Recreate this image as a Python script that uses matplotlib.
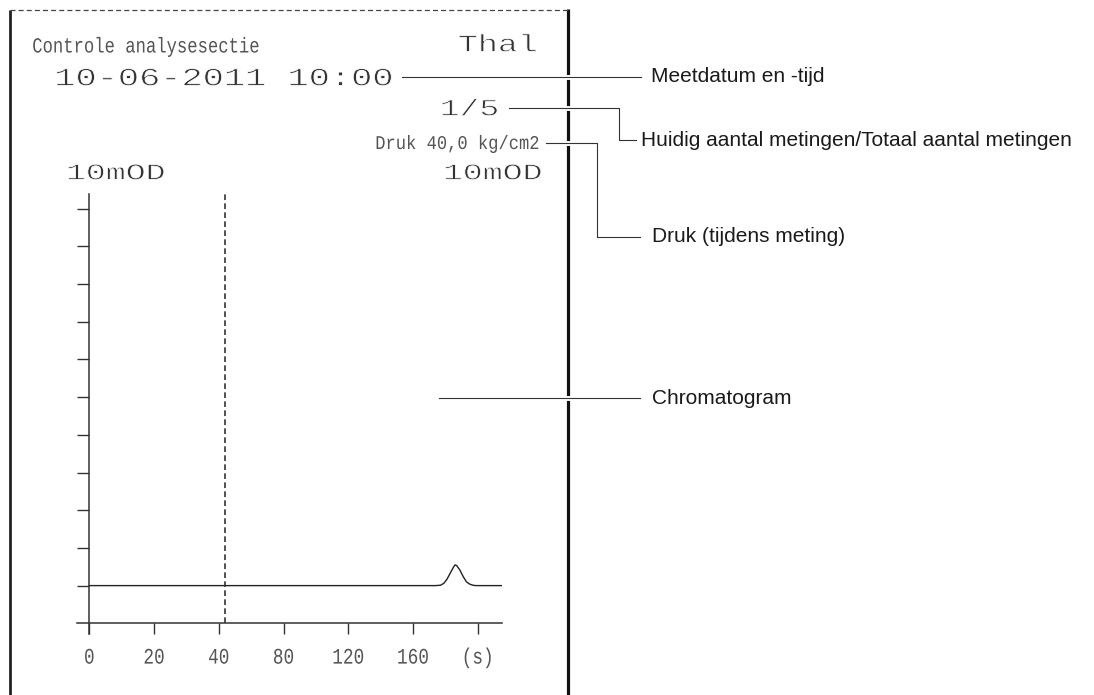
import matplotlib
matplotlib.use('Agg')
import matplotlib.pyplot as plt
import matplotlib.patheffects as pe
from matplotlib.transforms import Affine2D
import numpy as np

# printout header texts
section_title = 'Controle analysesectie'
mode_name = 'Thal'
measured_at = '10-06-2011 10:00'
run_count = '1/5'
pressure = 'Druk 40,0 kg/cm2'
range_left = '10mOD'
range_right = '10mOD'

# chromatogram trace: time (s) vs signal (divisions above baseline)
time_s = [0, 150, 174, 177, 179, 181, 183, 185, 186, 187, 189, 191, 193, 195, 197, 199, 214.8]
signal = [0, 0.0, 0.0, 0.01, 0.06, 0.17, 0.33, 0.49, 0.55, 0.53, 0.41, 0.24, 0.10, 0.04, 0.01, 0.0, 0.0]
marker_time = 44
tick_times = [0, 20, 40, 80, 120, 160, 200]
tick_labels = ['0', '20', '40', '80', '120', '160', '(s)']
div_levels = list(range(0, 11))

callouts = ['Meetdatum en -tijd',
            'Huidig aantal metingen/Totaal aantal metingen',
            'Druk (tijdens meting)',
            'Chromatogram']


class Stretch(pe.AbstractPathEffect):
    # widen / squeeze printer font sideways around left, middle or right edge
    def __init__(self, sx, anchor=0.0, thin=0.0):
        super().__init__()
        self.sx = sx
        self.anchor = anchor
        self.thin = thin

    def draw_path(self, renderer, gc, tpath, affine, rgbFace=None):
        ext = tpath.get_extents()
        x0 = ext.x0 + self.anchor * ext.width
        tr = Affine2D().translate(-x0, 0).scale(self.sx, 1).translate(x0, 0) + affine
        renderer.draw_path(gc, tpath, tr, rgbFace)
        if self.thin:
            # shave the strokes a bit, printer font is thin
            gc0 = renderer.new_gc()
            gc0.copy_properties(gc)
            gc0.set_foreground('white')
            gc0.set_linewidth(self.thin)
            renderer.draw_path(gc0, tpath, tr, None)
            gc0.restore()


def fwd(t):
    t = np.asarray(t, dtype=float)
    return np.where(t <= 40, t, 40 + (t - 40) / 2)


def inv(u):
    u = np.asarray(u, dtype=float)
    return np.where(u <= 40, u, 40 + (u - 40) * 2)


fig = plt.figure(figsize=(10.94, 6.95), dpi=100)

# page layer in pixel coords
pg = fig.add_axes([0, 0, 1, 1])
pg.set_xlim(0, 1094)
pg.set_ylim(695, 0)
pg.axis('off')

pg.plot([10, 10], [10, 695], color='#222', lw=2.0, solid_capstyle='butt')
pg.plot([568, 568], [9, 695], color='#111', lw=2.3, solid_capstyle='butt')
pg.plot([10, 568], [10, 10], color='#444', lw=0.9, dashes=(4, 2.5))

anchors = {'left': 0.0, 'center': 0.5, 'right': 1.0}


def printed(x, y, s, size, sx, ha='left', color='#333', thin=0.0):
    t = pg.text(x, y, s, fontsize=size, family='Liberation Mono', ha=ha, va='baseline', color=color)
    t.set_path_effects([Stretch(sx, anchors[ha], thin)])
    return t


printed(32, 52.5, section_title, 15.5, 0.8, 'left', '#555')
printed(537, 51.5, mode_name, 17.5, 1.37, 'right', '#333', 0.6)
printed(55, 85.5, measured_at, 18.3, 1.39, 'left', '#333', 0.6)
printed(498.5, 115.5, run_count, 17, 1.4, 'right', '#333', 0.6)
printed(541, 149, pressure, 14, 0.88, 'right', '#555')
printed(66.6, 179.5, range_left, 16.5, 1.45, 'left', '#333', 0.6)
printed(542, 179.5, range_right, 16.5, 1.45, 'right', '#333', 0.6)

halo = [pe.withStroke(linewidth=3.5, foreground='white')]


def callout(xs, ys, label, tx, ty):
    pg.plot(xs, ys, color='#333', lw=0.8, path_effects=halo, zorder=5)
    pg.text(tx, ty, label, family='Liberation Sans', fontsize=15, ha='left', va='center', color='#1a1a1a')


callout([402, 641], [76.5, 76.5], callouts[0], 651, 76.5)
callout([509, 618.5, 618.5, 636], [108, 108, 140, 140], callouts[1], 641, 140)
callout([546, 596.5, 596.5, 640], [143, 143, 237, 237], callouts[2], 652, 237)
callout([439, 640], [398, 398], callouts[3], 652, 398)

# chromatogram
ax = fig.add_axes([76.7 / 1094, 61 / 695, 425 / 1094, 440 / 695])
ax.patch.set_visible(False)
ax.set_xscale('function', functions=(fwd, inv))
ax.set_xlim(-3.9, 214.8)
ax.set_ylim(-1.284, 10.39)

ax.plot(time_s, signal, color='#222', lw=1.0)
ax.vlines(marker_time, -1, 10.39, colors='#333', lw=1.2, linestyles=(0, (3.4, 2)))

for side in ['top', 'right']:
    ax.spines[side].set_visible(False)
ax.spines['left'].set_position(('data', 0))
ax.spines['bottom'].set_position(('data', -1))
for side in ['left', 'bottom']:
    ax.spines[side].set_color('#333')
    ax.spines[side].set_linewidth(1.1)

ax.set_yticks(div_levels)
ax.tick_params(axis='y', length=9, width=1.0, color='#333', labelleft=False)
ax.set_xticks(tick_times, tick_labels, fontfamily='Liberation Mono')
ax.tick_params(axis='x', length=8, width=1.0, color='#333', pad=9.5, labelsize=16, labelcolor='#555')
for lab in ax.get_xticklabels():
    lab.set_path_effects([Stretch(0.8, 0.5)])

fig.savefig('out.png', dpi=100)
